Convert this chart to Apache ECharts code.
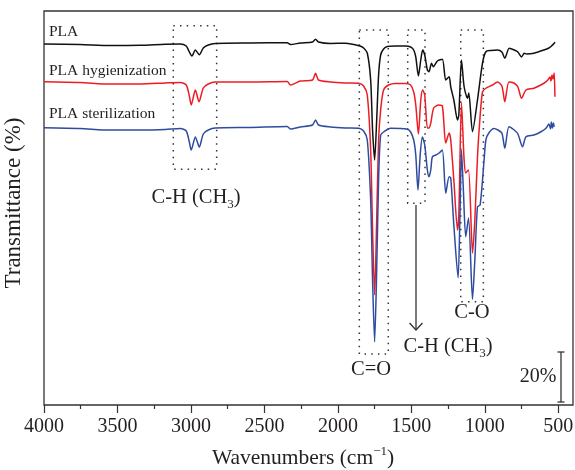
<!DOCTYPE html>
<html>
<head>
<meta charset="utf-8">
<script src="https://cdn.jsdelivr.net/npm/echarts@6/dist/echarts.min.js"></script>
<style>
  html, body { margin: 0; padding: 0; background: #fff; }
  #chart { width: 575px; height: 470px; }
</style>
</head>
<body>
<div id="chart"></div>
<script>
  // [wavenumber (cm-1), transmittance with offset (%)]
  const plaSpectrum = [
    [4000,144.4],[3755,144.2],[3550,143.8],[3345,143.9],[3175,144.3],[3073,144.4],[3032,143.6],[3011,141.2],
    [2993,139.6],[2970,142.0],[2943,140.1],[2916,142.8],[2882,144.0],[2834,144.6],[2595,144.8],[2345,144.9],
    [2323,144.2],[2255,144.8],[2173,145.2],[2152,146.3],[2132,145.2],[2050,144.6],[1948,144.7],[1850,143.6],
    [1825,142.8],[1800,140.8],[1777,130],[1764,110],[1750,98],[1736,114],[1723,132],[1709,140],[1689,142.4],
    [1663,143.4],[1607,143.6],[1539,143.6],[1505,143.2],[1484,142],[1470,139.2],[1452,131.6],[1436,138],
    [1423,142],[1409,140],[1391,134],[1380,133.3],[1363,136.7],[1350,135.3],[1323,137.6],[1289,138.3],
    [1266,130],[1243,131.3],[1232,127.2],[1211,122],[1186,114],[1177,116],[1159,138],[1141,127.3],[1118,122.7],
    [1109,124.8],[1084,109.3],[1050,122],[1016,136.7],[993,141.3],[959,141.8],[914,142],[884,141.2],[864,138.7],
    [834,142.7],[800,142],[775,141.2],[750,139.2],[732,140.7],[714,140.4],[666,140.7],[598,142],[564,142.8],
    [550,143.4],[528,144.7],[523,145.2]
  ];
  const hygienizationSpectrum = [
    [4000,129.3],[3755,129],[3550,128.4],[3345,128.4],[3175,128.8],[3073,129],[3032,128],[3011,123.6],
    [2998,120],[2970,126],[2945,121.3],[2916,126.8],[2882,128.4],[2834,129.2],[2595,129.2],[2345,129.4],
    [2323,128],[2255,129.6],[2173,130],[2152,132.7],[2132,130],[2050,129.2],[1948,128.8],[1859,128.7],
    [1825,127.6],[1800,124],[1777,102],[1764,70],[1750,44],[1736,74],[1723,106],[1709,118],[1689,126],
    [1655,128],[1607,128.6],[1539,128.6],[1505,128],[1484,125.2],[1470,120],[1452,108.4],[1436,122],
    [1423,126],[1409,124],[1391,110.8],[1380,110.8],[1368,112.8],[1348,118.8],[1314,120],[1289,119.6],
    [1266,104.8],[1243,108.8],[1232,106],[1211,90],[1186,70],[1177,76],[1159,120.8],[1141,98],[1130,92.8],
    [1111,94],[1084,60.8],[1068,74],[1050,99.3],[1034,114],[1016,125.2],[993,126.7],[948,128],[914,129.2],
    [884,127.6],[864,121.3],[836,129.2],[800,128.7],[775,127.2],[750,122.7],[720,126],[666,126.7],[598,128.7],
    [571,130],[557,131.2],[550,129.6],[543,132],[536,130.4],[528,132.8],[523,123.3]
  ];
  const sterilizationSpectrum = [
    [4000,110.9],[3755,110.6],[3550,110],[3345,110],[3175,110.2],[3073,110.6],[3032,109.6],[3011,105.2],
    [2998,102],[2970,107.2],[2943,103.2],[2916,108.4],[2882,110],[2834,110.8],[2595,111],[2345,111.4],
    [2323,110.4],[2255,111.2],[2173,112],[2152,114],[2132,112],[2050,111.2],[1948,110.8],[1859,110.7],
    [1825,109.6],[1800,106],[1777,82],[1764,50],[1750,25.3],[1736,54],[1723,90],[1709,108],[1687,109.3],
    [1641,110.7],[1527,110.3],[1505,109.2],[1484,106],[1470,100],[1455,86],[1440,100],[1425,107.2],[1409,104],
    [1391,94],[1380,91.3],[1368,94],[1357,99.3],[1334,100],[1311,100.8],[1289,102],[1266,84.7],[1243,91.3],
    [1232,90.8],[1211,72],[1182,50.9],[1170,74],[1159,102],[1146,86],[1130,67.3],[1111,74.8],[1084,42.3],
    [1068,58],[1050,79.3],[1032,80],[1005,98],[993,106],[973,108.8],[937,110.6],[911,110],[884,108.8],
    [864,102.7],[836,111.3],[800,110],[775,108.4],[743,103.3],[720,107.3],[666,108],[618,109.3],[584,110.7],
    [564,112.4],[553,110.4],[547,113.2],[540,110.8],[533,112.8],[528,111.3]
  ];
  const seriesNames = ['PLA', 'PLA hygienization', 'PLA sterilization'];
  const majorTicks = [500, 1000, 1500, 2000, 2500, 3000, 3500, 4000];
  const minorTicks = [750, 1250, 1750, 2250, 2750, 3250, 3750];

  const serif = 'Liberation Serif';
  const ink = '#231f20';

  const chart = echarts.init(document.getElementById('chart'));

  const box = { color: 'rgba(0,0,0,0)', borderColor: '#333', borderWidth: 1.5, borderType: [1.5, 5.2] };
  const subRich = {
    n: { fontFamily: serif, fontSize: 20.5, verticalAlign: 'middle' },
    s: { fontFamily: serif, fontSize: 13, verticalAlign: 'top', padding: [11, 0, 0, 0], lineHeight: 13 }
  };

  const option = {
    animation: false,
    backgroundColor: '#fff',
    grid: { left: 44, right: 2, top: 11, bottom: 65, outerBoundsMode: 'none', containLabel: false,
            show: true, borderColor: '#333', borderWidth: 1.3 },
    xAxis: [{
      type: 'value', min: 400, max: 4000, inverse: true,
      axisLine: { show: false }, splitLine: { show: false },
      axisTick: { show: true, length: 8, lineStyle: { color: '#333', width: 1.2 }, customValues: majorTicks },
      axisLabel: { customValues: majorTicks, formatter: (v) => String(v),
                   fontFamily: serif, fontSize: 20, color: ink, margin: 12 }
    }, {
      type: 'value', min: 400, max: 4000, inverse: true, position: 'bottom',
      axisLine: { show: false }, splitLine: { show: false },
      axisTick: { show: true, length: 4, lineStyle: { color: '#333', width: 1.2 }, customValues: minorTicks },
      axisLabel: { show: false }
    }],
    yAxis: {
      type: 'value', min: 0, max: 157.6,
      axisLine: { show: false }, axisTick: { show: false }, axisLabel: { show: false }, splitLine: { show: false }
    },
    series: [
      {
        name: seriesNames[0], type: 'line', data: plaSpectrum, showSymbol: false, smooth: 0.25,
        lineStyle: { color: '#111', width: 1.5 },
        markArea: {
          silent: true, itemStyle: box, label: { show: false },
          data: [
            [{ xAxis: 3120, yAxis: 151.7 }, { xAxis: 2825, yAxis: 94.3 }],
            [{ xAxis: 1854, yAxis: 150 }, { xAxis: 1657, yAxis: 20.4 }],
            [{ xAxis: 1525, yAxis: 150 }, { xAxis: 1407, yAxis: 80.7 }],
            [{ xAxis: 1164, yAxis: 150 }, { xAxis: 1010, yAxis: 41.3 }]
          ]
        }
      },
      { name: seriesNames[1], type: 'line', data: hygienizationSpectrum, showSymbol: false, smooth: 0.25,
        lineStyle: { color: '#ed1c24', width: 1.5 } },
      { name: seriesNames[2], type: 'line', data: sterilizationSpectrum, showSymbol: false, smooth: 0.25,
        lineStyle: { color: '#2e4b9f', width: 1.5 } }
    ],
    graphic: [
      { type: 'text', x: 49, y: 32, style: { text: seriesNames[0], font: '15.5px ' + serif, fill: ink, verticalAlign: 'middle' } },
      { type: 'text', x: 49, y: 71, style: { text: seriesNames[1], font: '15.5px ' + serif, fill: ink, verticalAlign: 'middle' } },
      { type: 'text', x: 49, y: 114, style: { text: seriesNames[2], font: '15.5px ' + serif, fill: ink, verticalAlign: 'middle' } },
      { type: 'text', x: 196, y: 198, style: {
          text: '{n|C-H (CH}{s|3}{n|)}', align: 'center', verticalAlign: 'middle', fill: ink, rich: subRich } },
      { type: 'text', x: 448, y: 347, style: {
          text: '{n|C-H (CH}{s|3}{n|)}', align: 'center', verticalAlign: 'middle', fill: ink, rich: subRich } },
      { type: 'text', x: 371, y: 370, style: { text: 'C=O', font: '20.5px ' + serif, fill: ink, align: 'center', verticalAlign: 'middle' } },
      { type: 'text', x: 472, y: 313, style: { text: 'C-O', font: '20.5px ' + serif, fill: ink, align: 'center', verticalAlign: 'middle' } },
      { type: 'text', x: 538, y: 377, style: { text: '20%', font: '20px ' + serif, fill: ink, align: 'center', verticalAlign: 'middle' } },
      // arrow to the 1452 band label
      { type: 'line', shape: { x1: 416, y1: 205, x2: 416, y2: 330 }, style: { stroke: '#333', lineWidth: 1.3 } },
      { type: 'polyline', shape: { points: [[409.5, 323], [416, 330], [422.5, 323]] }, style: { stroke: '#333', lineWidth: 1.3, fill: null } },
      // 20% scale bar
      { type: 'line', shape: { x1: 561, y1: 352, x2: 561, y2: 402 }, style: { stroke: '#333', lineWidth: 1.3 } },
      { type: 'line', shape: { x1: 557.5, y1: 352, x2: 564.5, y2: 352 }, style: { stroke: '#333', lineWidth: 1.3 } },
      { type: 'line', shape: { x1: 557.5, y1: 402, x2: 564.5, y2: 402 }, style: { stroke: '#333', lineWidth: 1.3 } },
      // axis titles
      { type: 'text', x: 303, y: 458, style: {
          text: '{n|Wavenumbers (cm}{p|\u22121}{n|)}', align: 'center', verticalAlign: 'middle', fill: ink,
          rich: { n: { fontFamily: serif, fontSize: 21.5, verticalAlign: 'middle' },
                  p: { fontFamily: serif, fontSize: 13, verticalAlign: 'bottom', padding: [0, 0, 11, 0], lineHeight: 13 } } } },
      { type: 'text', x: 14, y: 203, rotation: Math.PI / 2, style: {
          text: 'Transmittance (%)', font: '23px ' + serif, fill: ink, align: 'center', verticalAlign: 'middle' } }
    ]
  };

  chart.setOption(option);
  window.onresize = function () { chart.resize(); };
</script>
</body>
</html>
